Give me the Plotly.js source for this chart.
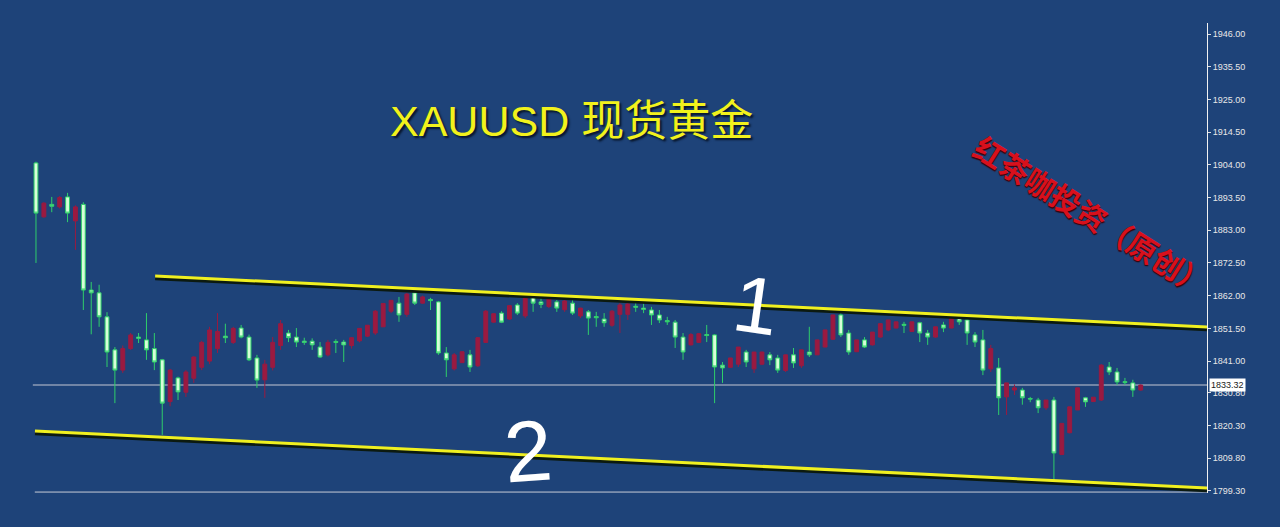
<!DOCTYPE html>
<html><head><meta charset="utf-8">
<script src="https://cdn.plot.ly/plotly-3.0.1.min.js"></script>
<style>html,body{margin:0;padding:0;background:#1e4379;overflow:hidden}#chart{width:1280px;height:527px;}</style>
</head><body><div id="chart"></div>
<script>
// OHLC values (one bar per position, left to right)
const openP = [1904.6,1887.3,1891.3,1890.5,1893.7,1886,1891.3,1863.8,1862.9,1855.2,1844.6,1838.1,1845,1848.7,1847.8,1845,1841.4,1828,1835.6,1831,
1835.5,1839,1841,1845,1849,1847,1851.6,1848.7,1842,1835,1839,1846,1850,1848.7,1847.4,1847.4,1845.5,1843,1847.3,1847.1,
1846,1847.5,1849,1850,1852,1857,1859.6,1856,1862.9,1859.6,1860.8,1860,1843.6,1838.5,1840.5,1843,1839.5,1847,1853.5,1856.4,
1854.5,1859,1855.5,1862.2,1860,1858.5,1860,1857.5,1859.6,1855.5,1856.8,1855.3,1854.5,1852.5,1856,1856,1858.6,1858,1857.4,1855.8,
1854,1853.5,1848.7,1846.2,1847,1849.5,1849.4,1839.7,1839,1840,1843.9,1838.5,1840,1843,1842,1838,1843,1839.5,1843.9,1843,
1845.5,1848,1855.8,1850,1844,1847.8,1846.2,1848.7,1851,1851.6,1852.8,1850.5,1853.3,1850,1848.7,1852.6,1851.6,1854.8,1854.2,1849.4,
1847.8,1838.5,1838.8,1829.5,1831.7,1831.7,1829,1828.5,1826,1828.5,1811,1818,1825.3,1829.2,1828,1828.5,1839.1,1837.5,1834.4,1834,1831.7];
const highP = [1905,1892,1893.7,1894,1895,1891,1892,1866.4,1865.5,1856.7,1845.5,1846,1850,1850,1856.4,1850,1841.7,1838.5,1836,1838.1,
1842.5,1847.5,1852,1856.4,1853,1852,1852.6,1849.5,1843,1841.4,1848.7,1854.2,1851,1851.6,1848.5,1848.3,1847.1,1847.8,1848,1847.8,
1848.7,1851.6,1852.6,1857.4,1859.6,1860.6,1861.6,1862.9,1863.8,1862,1861.3,1860.3,1845.5,1843.6,1844,1844.6,1848.7,1857.4,1856.4,1857,
1859,1859.6,1862.2,1862.2,1861.6,1861.3,1860.6,1860.6,1861.6,1858.1,1857.4,1856.8,1856.4,1857.4,1859.6,1859.6,1860.6,1859.9,1858.4,1857.4,
1855.2,1854.2,1850,1850,1850,1852.6,1849.6,1840.7,1842,1845.5,1844.6,1843.9,1844,1843.9,1843,1843,1845.2,1844.6,1852,1847.8,
1851,1855.8,1856.8,1851,1847.8,1848.7,1850.3,1853.2,1854.2,1853.6,1853.6,1853.6,1853.6,1851,1852,1853.6,1855.2,1855.8,1854.8,1850.3,
1851,1846.2,1842,1834,1833.5,1832.4,1829.5,1829.2,1828.5,1829.5,1821,1826.3,1832.4,1829.5,1829.5,1840,1840.7,1838.8,1835.6,1835,1833.5];
const lowP = [1872.5,1887,1888.8,1890,1885.6,1876.7,1857.4,1849.6,1852,1839.1,1827.5,1837.2,1844.6,1846.8,1841.4,1838.1,1817.3,1826.5,1828.5,1829.5,
1834,1838.1,1840,1843.6,1846.8,1846.5,1848.3,1841,1832.4,1829.2,1838,1844.6,1847.1,1845.5,1846.2,1844.6,1842,1842.5,1843.6,1840.7,
1845,1847,1848.7,1849.4,1852,1856.4,1853.6,1855.2,1859,1859.4,1857.4,1843,1835.9,1838,1840.4,1837.5,1839.1,1846.8,1853.3,1853.2,
1854.2,1855.8,1854.8,1856.8,1858,1858,1856.8,1856.8,1855.8,1854.8,1849.4,1852,1852,1852,1850,1854.2,1856.8,1856.4,1852.6,1853.2,
1852.6,1845.2,1841.4,1846,1846.8,1847.1,1827.5,1834,1838.8,1839.1,1839.1,1837.2,1839.7,1839.7,1837.2,1837.5,1838.8,1838.8,1842.3,1843,
1845.5,1847.8,1848.7,1843,1843.9,1845.2,1846,1848.5,1850.6,1851.5,1850,1850.3,1847.1,1846.2,1848.5,1850.3,1851.5,1852.6,1846.2,1845.5,
1836.5,1837.5,1823.7,1823.7,1830.1,1827,1827.8,1824.3,1825.3,1802.8,1810.8,1817.8,1825.3,1826.3,1828,1828.2,1836.5,1833.3,1833.3,1829.5,1831.5];
const closeP = [1888.5,1891.7,1890.7,1893.5,1888.5,1890.5,1863.8,1862.9,1855.2,1843.9,1838.1,1845,1849.4,1848.3,1844.6,1840.7,1827.5,1838.1,1831.1,1837.5,
1842.3,1847,1851,1850.5,1848.5,1851.5,1848.7,1841.4,1834.9,1840,1847,1853,1848.5,1847.1,1847,1846.2,1842.3,1847,1847,1846.2,
1848.5,1851.5,1852.5,1857,1859.5,1860.5,1855.8,1862.5,1859.6,1861.6,1860.4,1843.6,1841.4,1843,1844,1839.1,1848.5,1857,1856.2,1853.5,
1858.8,1856.4,1862,1859.6,1859.2,1861.2,1858,1860.3,1856.4,1858,1854.8,1854.9,1853.3,1857,1859,1859.3,1858.3,1857.6,1855.8,1854.2,
1853.6,1848.7,1843.9,1849.5,1849.8,1849.2,1839.1,1838.8,1842,1845.5,1840.7,1843.9,1843.9,1841.4,1838.1,1843,1840.4,1844.6,1843,1847.8,
1851,1855.8,1849.4,1843.9,1847.8,1845.5,1850.3,1853,1854.2,1853.6,1852.5,1853.6,1850,1848.7,1852,1851.6,1855.2,1853.6,1850,1847.1,
1838.1,1845,1829.2,1834,1832.4,1829.2,1828.8,1826,1828.5,1811.5,1821,1826.3,1832.4,1827.9,1829.4,1839.7,1837.5,1834.3,1834.1,1831.7,1833.3];

const tickValues = [1946.00,1935.50,1925.00,1914.50,1904.00,1893.50,1883.00,1872.50,1862.00,1851.50,1841.00,1830.80,1820.30,1809.80,1799.30];
const tickLabels = ["1946.00","1935.50","1925.00","1914.50","1904.00","1893.50","1883.00","1872.50","1862.00","1851.50","1841.00","1830.80","1820.30","1809.80","1799.30"];
const lastPrice = 1833.32;
// trend lines: [bar index start, price start, bar index end, price end]
const upperLine = [15.1, 1868.3, 148.4, 1851.9];
const lowerLine = [-0.13, 1818.55, 148.4, 1800.25];

const bars = openP.map((_, i) => i);

const trace = {
  type: 'candlestick', x: bars, open: openP, high: highP, low: lowP, close: closeP,
  increasing: {line: {color: '#9a1a40', width: 1}, fillcolor: '#9a1a40'},
  decreasing: {line: {color: '#2fcf6a', width: 1}, fillcolor: '#d6ffd8'},
  whiskerwidth: 0, hoverinfo: 'skip', showlegend: false
};

function tline(l, color, w, dy) {
  return {type: 'line', xref: 'x', yref: 'y', x0: l[0], y0: l[1] - dy, x1: l[2], y1: l[3] - dy,
          line: {color: color, width: w}, layer: 'above'};
}

const layout = {
  width: 1280, height: 527,
  margin: {l: 0, r: 73, t: 23, b: 34, pad: 0},
  paper_bgcolor: '#1e4379', plot_bgcolor: '#1e4379',
  showlegend: false,
  xaxis: {range: [-4.56, 148.4], visible: false, rangeslider: {visible: false}, fixedrange: true},
  yaxis: {side: 'right', range: [1798.65, 1949.53], tickvals: tickValues, ticktext: tickLabels,
          showgrid: false, zeroline: false, showline: true, linecolor: '#f2f2f2', linewidth: 1,
          ticks: 'outside', ticklen: 3, tickcolor: '#e0e0e0',
          tickfont: {family: 'Liberation Sans, Arial, sans-serif', size: 9, color: '#e8e8e8'}, fixedrange: true},
  shapes: [
    {type: 'line', xref: 'x', yref: 'y', x0: -0.4, x1: 148.4, y0: lastPrice, y1: lastPrice, line: {color: '#c4c8d4', width: 1}, layer: 'below'},
    {type: 'line', xref: 'x', yref: 'paper', x0: -0.15, x1: 148.4, y0: 0.002, y1: 0.002, line: {color: '#c8ccd8', width: 1}},
    tline(upperLine, '#0c1a10', 4, 0.7), tline(upperLine, '#f0f020', 3, 0),
    tline(lowerLine, '#0c1a10', 4, 0.7), tline(lowerLine, '#f0f020', 3, 0)
  ],
  annotations: [
    {xref: 'paper', yref: 'paper', x: 0.4735, y: 0.791, xanchor: 'center', yanchor: 'middle', text: 'XAUUSD 现货黄金', showarrow: false,
     font: {family: 'Liberation Sans, Noto Sans CJK SC, sans-serif', size: 43, color: '#f2f21c', shadow: '2px 2px 2px #08162c'}},
    {xref: 'paper', yref: 'paper', x: 0.627, y: 0.40, xanchor: 'center', yanchor: 'middle', text: '1', showarrow: false, textangle: 8,
     font: {family: 'Liberation Sans, sans-serif', size: 80, color: '#ffffff'}},
    {xref: 'paper', yref: 'paper', x: 0.4375, y: 0.09, xanchor: 'center', yanchor: 'middle', text: '2', showarrow: false, textangle: -4,
     font: {family: 'Liberation Sans, sans-serif', size: 86, color: '#ffffff'}},
    {xref: 'paper', yref: 'paper', x: 0.905, y: 0.591, xanchor: 'center', yanchor: 'middle', text: '红茶咖投资（原创）', showarrow: false, textangle: 32,
     font: {family: 'Noto Sans CJK SC, sans-serif', size: 30, weight: 'bold', color: '#d8101c', shadow: '1px 1px 1px #3a0008'}},
    {xref: 'paper', yref: 'y', x: 1, y: lastPrice, xanchor: 'left', yanchor: 'middle', xshift: 2, text: '1833.32', showarrow: false,
     bgcolor: '#ffffff', borderpad: 1, font: {family: 'Liberation Sans, sans-serif', size: 9, color: '#1a1a1a'}}
  ]
};

Plotly.newPlot('chart', [trace], layout, {displayModeBar: false, staticPlot: true});
</script>
</body></html>
